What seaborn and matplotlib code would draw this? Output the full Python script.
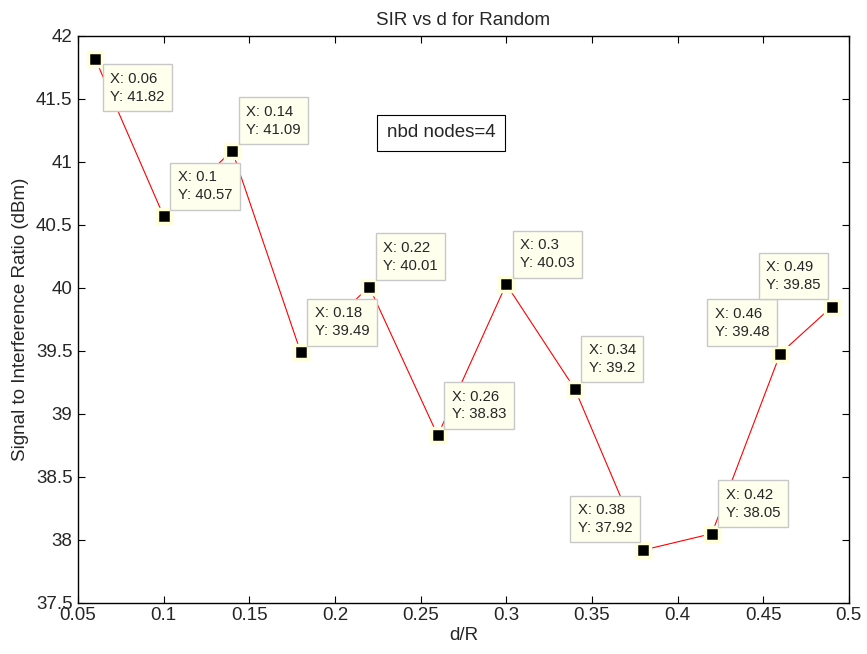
import matplotlib
matplotlib.use("Agg")
import matplotlib.pyplot as plt
import seaborn as sns
import pandas as pd

d_over_r = [0.06, 0.10, 0.14, 0.18, 0.22, 0.26, 0.30, 0.34, 0.38, 0.42, 0.46, 0.49]
sir_dbm = [41.82, 40.57, 41.09, 39.49, 40.01, 38.83, 40.03, 39.20, 37.92, 38.05, 39.48, 39.85]
tip_labels = ["0.06", "0.1", "0.14", "0.18", "0.22", "0.26", "0.3", "0.34", "0.38", "0.42", "0.46", "0.49"]
tip_values = ["41.82", "40.57", "41.09", "39.49", "40.01", "38.83", "40.03", "39.2", "37.92", "38.05", "39.48", "39.85"]
# where each data tip sits relative to its point
tip_side = ["lr", "ur", "ur", "ur", "ur", "ur", "ur", "ur", "ul", "ur", "ul", "ul"]

x_ticks = [0.05, 0.1, 0.15, 0.2, 0.25, 0.3, 0.35, 0.4, 0.45, 0.5]
x_tick_labels = ["0.05", "0.1", "0.15", "0.2", "0.25", "0.3", "0.35", "0.4", "0.45", "0.5"]
y_ticks = [37.5, 38, 38.5, 39, 39.5, 40, 40.5, 41, 41.5, 42]
y_tick_labels = ["37.5", "38", "38.5", "39", "39.5", "40", "40.5", "41", "41.5", "42"]

sns.set_style("white")
plt.rcParams["font.family"] = ["Liberation Sans", "DejaVu Sans"]

df = pd.DataFrame({"d/R": d_over_r, "SIR": sir_dbm})

fig = plt.figure(figsize=(8.67, 6.54), dpi=100)
ax = fig.add_axes([0.090, 0.078, 0.889, 0.867])

sns.lineplot(data=df, x="d/R", y="SIR", ax=ax, color="red", linewidth=0.8,
             marker="s", markersize=10.4, markerfacecolor="black",
             markeredgecolor="#ffffdc", markeredgewidth=2.5)

ax.set_xlim(0.05, 0.5)
ax.set_ylim(37.5, 42)
ax.set_xticks(x_ticks)
ax.set_xticklabels(x_tick_labels)
ax.set_yticks(y_ticks)
ax.set_yticklabels(y_tick_labels)
ax.tick_params(direction="in", length=5, width=0.8, labelsize=13.5, color="black",
               top=True, right=True, bottom=True, left=True)
ax.tick_params(axis="y", pad=4)
ax.tick_params(axis="x", pad=3)
for s in ax.spines.values():
    s.set_color("black")
    s.set_linewidth(1.0)

ax.set_xlabel("d/R", fontsize=13.5, labelpad=2)
ax.set_ylabel("Signal to Interference Ratio (dBm)", fontsize=13.5, labelpad=5)
ax.set_title("SIR vs d for Random", fontsize=13.5, pad=8)

offsets = {"lr": ((15, -13), "left", "top"),
           "ur": ((14, 14), "left", "bottom"),
           "ul": ((-11, 15), "right", "bottom")}
for x, y, lx, ly, side in zip(d_over_r, sir_dbm, tip_labels, tip_values, tip_side):
    (dx, dy), ha, va = offsets[side]
    ax.annotate(f"X: {lx}\nY: {ly}", xy=(x, y), xytext=(dx, dy),
                textcoords="offset pixels", ha=ha, va=va, fontsize=10.7,
                multialignment="left", linespacing=1.35, zorder=5,
                bbox=dict(boxstyle="square,pad=0.5", facecolor="#ffffee",
                          edgecolor="#c8c8c8", linewidth=1.0))

ax.text(0.471, 0.829, "nbd nodes=4", transform=ax.transAxes, fontsize=13.5,
        ha="center", va="center",
        bbox=dict(boxstyle="square,pad=0.5", facecolor="white",
                  edgecolor="black", linewidth=0.8))

fig.savefig("out.png", dpi=100)
